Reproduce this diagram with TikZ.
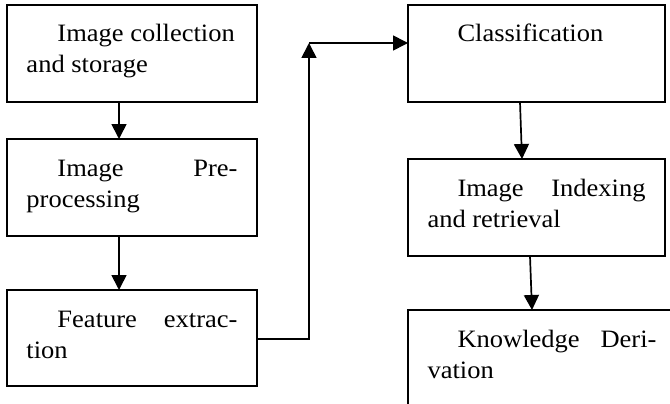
\documentclass[tikz,border=0pt]{standalone}
\usepackage{fontspec}
\setmainfont{Liberation Serif}[FakeStretch=1.06]
\usetikzlibrary{calc,arrows.meta}
\newcommand{\bt}[3]{\parbox[t][#1][t]{#2}{\fontsize{25}{31}\selectfont\rule{0pt}{37pt}#3}}
\tikzset{
  blk/.style={draw, line width=1.6pt, inner xsep=19.5pt, inner ysep=0pt, outer sep=0pt, anchor=north west},
  arr/.style={line width=1.7pt, -{Triangle[length=15pt,width=15pt]}}
}
\begin{document}
\begin{tikzpicture}[x=1pt,y=-1pt]
\useasboundingbox (0,0) rectangle (670,404);
\clip (0,0) rectangle (670,404);
\node[blk] (b1) at (7,5) {\bt{97pt}{211pt}{\hspace*{31pt}Image collection\\and storage}};
\node[blk] (b2) at (7,139) {\bt{97pt}{211pt}{\hspace*{31pt}Image\hfill Pre-\\processing}};
\node[blk] (b3) at (7,290) {\bt{96pt}{211pt}{\hspace*{31pt}Feature\hfill extrac-\\tion}};
\node[blk] (b4) at (408,5) {\bt{97pt}{218pt}{\hspace*{30pt}Classification}};
\node[blk] (b5) at (408,159) {\bt{97pt}{218pt}{\hspace*{30pt}Image\hfill Indexing\\and retrieval}};
\node[blk] (b6) at (408,310) {\bt{110pt}{229pt}{\hspace*{30pt}Knowledge\hfill Deri-\\vation}};
\draw[arr] ($(b1.south west)+(112,0)$) -- ($(b2.north west)+(112,0)$);
\draw[arr] ($(b2.south west)+(112,0)$) -- ($(b3.north west)+(112,0)$);
\coordinate (c) at (309,43);
\draw[arr] ($(b3.north east)+(0,49)$) -| (c);
\draw[arr] (c) -- (c -| b4.west);
\draw[arr] ($(b4.south west)+(112,0)$) -- ($(b5.north west)+(114,0)$);
\draw[arr] ($(b5.south west)+(122,0)$) -- ($(b6.north west)+(124,0)$);
\end{tikzpicture}
\end{document}
